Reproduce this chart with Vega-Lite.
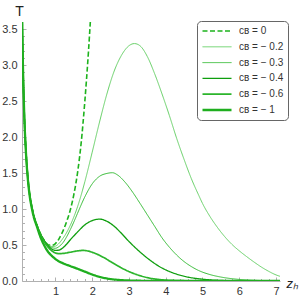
{
  "$schema": "https://vega.github.io/schema/vega-lite/v6.json",
  "width": 258,
  "height": 259,
  "autosize": {"type": "none"},
  "padding": {"left": 22, "top": 22, "right": 20, "bottom": 19},
  "config": {"view": {"stroke": null}, "font": "Liberation Sans"},
  "data": {"values": [
    {"z":0.09,"T":3.82,"c":"0"},{"z":0.1,"T":3.45,"c":"0"},{"z":0.12,"T":2.9,"c":"0"},{"z":0.15,"T":2.35,"c":"0"},{"z":0.2,"T":1.78,"c":"0"},{"z":0.25,"T":1.43,"c":"0"},{"z":0.3,"T":1.2,"c":"0"},{"z":0.35,"T":1.05,"c":"0"},{"z":0.4,"T":0.93,"c":"0"},{"z":0.5,"T":0.77,"c":"0"},{"z":0.6,"T":0.65,"c":"0"},
    {"z":0.7,"T":0.56,"c":"0"},{"z":0.8,"T":0.505,"c":"0"},{"z":0.9,"T":0.495,"c":"0"},{"z":1.0,"T":0.52,"c":"0"},{"z":1.1,"T":0.59,"c":"0"},{"z":1.2,"T":0.69,"c":"0"},{"z":1.3,"T":0.82,"c":"0"},{"z":1.4,"T":0.98,"c":"0"},{"z":1.5,"T":1.2,"c":"0"},{"z":1.6,"T":1.5,"c":"0"},{"z":1.7,"T":1.92,"c":"0"},{"z":1.8,"T":2.5,"c":"0"},{"z":1.9,"T":3.2,"c":"0"},{"z":2.0,"T":4.05,"c":"0"},

    {"z":0.09,"T":3.82,"c":"-0.2"},{"z":0.1,"T":3.45,"c":"-0.2"},{"z":0.12,"T":2.9,"c":"-0.2"},{"z":0.15,"T":2.35,"c":"-0.2"},{"z":0.2,"T":1.78,"c":"-0.2"},{"z":0.25,"T":1.43,"c":"-0.2"},{"z":0.3,"T":1.2,"c":"-0.2"},{"z":0.35,"T":1.05,"c":"-0.2"},{"z":0.4,"T":0.93,"c":"-0.2"},{"z":0.5,"T":0.77,"c":"-0.2"},{"z":0.6,"T":0.65,"c":"-0.2"},
    {"z":0.7,"T":0.565,"c":"-0.2"},{"z":0.8,"T":0.51,"c":"-0.2"},{"z":0.9,"T":0.48,"c":"-0.2"},{"z":1.0,"T":0.485,"c":"-0.2"},{"z":1.1,"T":0.525,"c":"-0.2"},{"z":1.2,"T":0.59,"c":"-0.2"},{"z":1.3,"T":0.67,"c":"-0.2"},{"z":1.4,"T":0.77,"c":"-0.2"},{"z":1.5,"T":0.89,"c":"-0.2"},{"z":1.6,"T":1.03,"c":"-0.2"},{"z":1.8,"T":1.38,"c":"-0.2"},{"z":2.0,"T":1.79,"c":"-0.2"},{"z":2.2,"T":2.21,"c":"-0.2"},{"z":2.4,"T":2.6,"c":"-0.2"},{"z":2.6,"T":2.92,"c":"-0.2"},{"z":2.8,"T":3.14,"c":"-0.2"},{"z":3.0,"T":3.27,"c":"-0.2"},{"z":3.15,"T":3.3,"c":"-0.2"},{"z":3.3,"T":3.27,"c":"-0.2"},{"z":3.5,"T":3.12,"c":"-0.2"},{"z":3.7,"T":2.88,"c":"-0.2"},{"z":3.9,"T":2.6,"c":"-0.2"},{"z":4.1,"T":2.3,"c":"-0.2"},{"z":4.3,"T":1.98,"c":"-0.2"},{"z":4.5,"T":1.69,"c":"-0.2"},{"z":4.7,"T":1.42,"c":"-0.2"},{"z":4.9,"T":1.19,"c":"-0.2"},{"z":5.0,"T":1.08,"c":"-0.2"},{"z":5.2,"T":0.9,"c":"-0.2"},{"z":5.4,"T":0.75,"c":"-0.2"},{"z":5.6,"T":0.62,"c":"-0.2"},{"z":5.8,"T":0.51,"c":"-0.2"},{"z":6.0,"T":0.42,"c":"-0.2"},{"z":6.2,"T":0.34,"c":"-0.2"},{"z":6.4,"T":0.265,"c":"-0.2"},{"z":6.6,"T":0.195,"c":"-0.2"},{"z":6.8,"T":0.135,"c":"-0.2"},{"z":7.0,"T":0.085,"c":"-0.2"},{"z":7.11,"T":0.065,"c":"-0.2"},

    {"z":0.09,"T":3.82,"c":"-0.3"},{"z":0.1,"T":3.45,"c":"-0.3"},{"z":0.12,"T":2.9,"c":"-0.3"},{"z":0.15,"T":2.35,"c":"-0.3"},{"z":0.2,"T":1.78,"c":"-0.3"},{"z":0.25,"T":1.43,"c":"-0.3"},{"z":0.3,"T":1.2,"c":"-0.3"},{"z":0.35,"T":1.05,"c":"-0.3"},{"z":0.4,"T":0.93,"c":"-0.3"},{"z":0.5,"T":0.77,"c":"-0.3"},{"z":0.6,"T":0.65,"c":"-0.3"},
    {"z":0.7,"T":0.562,"c":"-0.3"},{"z":0.8,"T":0.5,"c":"-0.3"},{"z":0.9,"T":0.465,"c":"-0.3"},{"z":1.0,"T":0.455,"c":"-0.3"},{"z":1.1,"T":0.48,"c":"-0.3"},{"z":1.2,"T":0.53,"c":"-0.3"},{"z":1.3,"T":0.61,"c":"-0.3"},{"z":1.4,"T":0.71,"c":"-0.3"},{"z":1.5,"T":0.82,"c":"-0.3"},{"z":1.6,"T":0.94,"c":"-0.3"},{"z":1.8,"T":1.17,"c":"-0.3"},{"z":2.0,"T":1.35,"c":"-0.3"},{"z":2.2,"T":1.455,"c":"-0.3"},{"z":2.4,"T":1.495,"c":"-0.3"},{"z":2.55,"T":1.505,"c":"-0.3"},{"z":2.7,"T":1.47,"c":"-0.3"},{"z":2.9,"T":1.37,"c":"-0.3"},{"z":3.1,"T":1.235,"c":"-0.3"},{"z":3.3,"T":1.08,"c":"-0.3"},{"z":3.5,"T":0.92,"c":"-0.3"},{"z":3.7,"T":0.76,"c":"-0.3"},{"z":3.9,"T":0.6,"c":"-0.3"},{"z":4.1,"T":0.47,"c":"-0.3"},{"z":4.3,"T":0.36,"c":"-0.3"},{"z":4.5,"T":0.27,"c":"-0.3"},{"z":4.7,"T":0.2,"c":"-0.3"},{"z":4.9,"T":0.145,"c":"-0.3"},{"z":5.2,"T":0.09,"c":"-0.3"},{"z":5.5,"T":0.055,"c":"-0.3"},{"z":6.0,"T":0.022,"c":"-0.3"},{"z":6.5,"T":0.008,"c":"-0.3"},{"z":7.11,"T":0.002,"c":"-0.3"},

    {"z":0.09,"T":3.82,"c":"-0.4"},{"z":0.1,"T":3.45,"c":"-0.4"},{"z":0.12,"T":2.9,"c":"-0.4"},{"z":0.15,"T":2.35,"c":"-0.4"},{"z":0.2,"T":1.78,"c":"-0.4"},{"z":0.25,"T":1.43,"c":"-0.4"},{"z":0.3,"T":1.2,"c":"-0.4"},{"z":0.35,"T":1.05,"c":"-0.4"},{"z":0.4,"T":0.93,"c":"-0.4"},{"z":0.5,"T":0.77,"c":"-0.4"},{"z":0.6,"T":0.65,"c":"-0.4"},
    {"z":0.7,"T":0.558,"c":"-0.4"},{"z":0.8,"T":0.49,"c":"-0.4"},{"z":0.9,"T":0.445,"c":"-0.4"},{"z":1.0,"T":0.425,"c":"-0.4"},{"z":1.1,"T":0.43,"c":"-0.4"},{"z":1.2,"T":0.46,"c":"-0.4"},{"z":1.3,"T":0.51,"c":"-0.4"},{"z":1.4,"T":0.57,"c":"-0.4"},{"z":1.6,"T":0.68,"c":"-0.4"},{"z":1.8,"T":0.78,"c":"-0.4"},{"z":2.0,"T":0.84,"c":"-0.4"},{"z":2.2,"T":0.86,"c":"-0.4"},{"z":2.4,"T":0.83,"c":"-0.4"},{"z":2.6,"T":0.76,"c":"-0.4"},{"z":2.8,"T":0.66,"c":"-0.4"},{"z":3.0,"T":0.55,"c":"-0.4"},{"z":3.2,"T":0.45,"c":"-0.4"},{"z":3.4,"T":0.36,"c":"-0.4"},{"z":3.6,"T":0.28,"c":"-0.4"},{"z":3.8,"T":0.21,"c":"-0.4"},{"z":4.0,"T":0.155,"c":"-0.4"},{"z":4.3,"T":0.095,"c":"-0.4"},{"z":4.6,"T":0.055,"c":"-0.4"},{"z":5.0,"T":0.025,"c":"-0.4"},{"z":5.5,"T":0.008,"c":"-0.4"},{"z":6.0,"T":0.003,"c":"-0.4"},{"z":7.11,"T":0.0,"c":"-0.4"},

    {"z":0.09,"T":3.82,"c":"-0.6"},{"z":0.1,"T":3.45,"c":"-0.6"},{"z":0.12,"T":2.9,"c":"-0.6"},{"z":0.15,"T":2.35,"c":"-0.6"},{"z":0.2,"T":1.78,"c":"-0.6"},{"z":0.25,"T":1.43,"c":"-0.6"},{"z":0.3,"T":1.2,"c":"-0.6"},{"z":0.35,"T":1.05,"c":"-0.6"},{"z":0.4,"T":0.93,"c":"-0.6"},{"z":0.5,"T":0.77,"c":"-0.6"},{"z":0.6,"T":0.64,"c":"-0.6"},
    {"z":0.7,"T":0.54,"c":"-0.6"},{"z":0.8,"T":0.47,"c":"-0.6"},{"z":0.9,"T":0.42,"c":"-0.6"},{"z":1.0,"T":0.39,"c":"-0.6"},{"z":1.1,"T":0.38,"c":"-0.6"},{"z":1.2,"T":0.383,"c":"-0.6"},{"z":1.4,"T":0.4,"c":"-0.6"},{"z":1.6,"T":0.418,"c":"-0.6"},{"z":1.75,"T":0.425,"c":"-0.6"},{"z":1.9,"T":0.415,"c":"-0.6"},{"z":2.1,"T":0.38,"c":"-0.6"},{"z":2.3,"T":0.33,"c":"-0.6"},{"z":2.5,"T":0.27,"c":"-0.6"},{"z":2.7,"T":0.21,"c":"-0.6"},{"z":2.9,"T":0.155,"c":"-0.6"},{"z":3.1,"T":0.11,"c":"-0.6"},{"z":3.3,"T":0.075,"c":"-0.6"},{"z":3.5,"T":0.047,"c":"-0.6"},{"z":3.8,"T":0.022,"c":"-0.6"},{"z":4.2,"T":0.008,"c":"-0.6"},{"z":5.0,"T":0.001,"c":"-0.6"},{"z":7.11,"T":0.0,"c":"-0.6"},

    {"z":0.09,"T":3.8,"c":"-1"},{"z":0.1,"T":3.43,"c":"-1"},{"z":0.12,"T":2.88,"c":"-1"},{"z":0.15,"T":2.33,"c":"-1"},{"z":0.2,"T":1.76,"c":"-1"},{"z":0.25,"T":1.41,"c":"-1"},{"z":0.3,"T":1.18,"c":"-1"},{"z":0.35,"T":1.03,"c":"-1"},{"z":0.4,"T":0.91,"c":"-1"},{"z":0.5,"T":0.75,"c":"-1"},{"z":0.6,"T":0.6,"c":"-1"},
    {"z":0.7,"T":0.49,"c":"-1"},{"z":0.8,"T":0.405,"c":"-1"},{"z":0.9,"T":0.35,"c":"-1"},{"z":1.0,"T":0.305,"c":"-1"},{"z":1.1,"T":0.272,"c":"-1"},{"z":1.2,"T":0.248,"c":"-1"},{"z":1.4,"T":0.208,"c":"-1"},{"z":1.6,"T":0.17,"c":"-1"},{"z":1.8,"T":0.13,"c":"-1"},{"z":2.0,"T":0.09,"c":"-1"},{"z":2.2,"T":0.058,"c":"-1"},{"z":2.4,"T":0.035,"c":"-1"},{"z":2.7,"T":0.016,"c":"-1"},{"z":3.0,"T":0.007,"c":"-1"},{"z":3.5,"T":0.002,"c":"-1"},{"z":4.0,"T":0.0005,"c":"-1"},{"z":7.11,"T":0.0,"c":"-1"}
  ]},
  "mark": {"type": "line", "interpolate": "monotone", "clip": true},
  "encoding": {
    "x": {
      "field": "z", "type": "quantitative",
      "scale": {"domain": [0.09, 7.11], "nice": false, "zero": false},
      "axis": {
        "values": [0.2,0.4,0.6,0.8,1,1.2,1.4,1.6,1.8,2,2.2,2.4,2.6,2.8,3,3.2,3.4,3.6,3.8,4,4.2,4.4,4.6,4.8,5,5.2,5.4,5.6,5.8,6,6.2,6.4,6.6,6.8,7],
        "labelExpr": "abs(datum.value - round(datum.value)) < 0.01 ? format(datum.value, 'd') : ''",
        "labelOverlap": false,
        "labelFlush": false,
        "tickSize": {"condition": {"test": "abs(datum.value - round(datum.value)) < 0.01", "value": -4}, "value": -2.5},
        "tickColor": "#b0b0b0",
        "domainColor": "#b0b0b0",
        "labelColor": "#333333",
        "labelFontSize": 11,
        "labelPadding": 8,
        "grid": false,
        "title": "zₕ",
        "titleFontStyle": "italic",
        "titleFontWeight": "normal",
        "titleFontSize": 13,
        "titleColor": "#222222",
        "titleAlign": "left",
        "titleBaseline": "alphabetic",
        "titleAngle": 0,
        "titleX": 264,
        "titleY": 6
      }
    },
    "y": {
      "field": "T", "type": "quantitative",
      "scale": {"domain": [0, 3.6], "nice": false, "zero": false},
      "axis": {
        "values": [0,0.1,0.2,0.3,0.4,0.5,0.6,0.7,0.8,0.9,1,1.1,1.2,1.3,1.4,1.5,1.6,1.7,1.8,1.9,2,2.1,2.2,2.3,2.4,2.5,2.6,2.7,2.8,2.9,3,3.1,3.2,3.3,3.4,3.5],
        "labelExpr": "abs(datum.value*2 - round(datum.value*2)) < 0.01 ? format(datum.value, '.1f') : ''",
        "labelOverlap": false,
        "labelFlush": false,
        "tickSize": {"condition": {"test": "abs(datum.value*2 - round(datum.value*2)) < 0.01", "value": -4}, "value": -2.5},
        "tickColor": "#b0b0b0",
        "domainColor": "#b0b0b0",
        "labelColor": "#333333",
        "labelFontSize": 11,
        "labelPadding": 9,
        "grid": false,
        "title": "T",
        "titleFontWeight": "normal",
        "titleFontSize": 14,
        "titleColor": "#222222",
        "titleAngle": 0,
        "titleAlign": "center",
        "titleBaseline": "alphabetic",
        "titleX": -3,
        "titleY": -7
      }
    },
    "color": {
      "field": "c", "type": "nominal",
      "scale": {"domain": ["0","-0.2","-0.3","-0.4","-0.6","-1"], "range": ["#1db31d","#66d066","#33bb33","#0e9e0e","#2cb52c","#1fae1f"]},
      "legend": {
        "orient": "none", "legendX": 175, "legendY": -1,
        "title": null,
        "symbolType": "stroke",
        "symbolSize": 841,
        "clipHeight": 12,
        "rowPadding": 3.8,
        "padding": 4,
        "labelOffset": 6,
        "labelFontSize": 10,
        "labelColor": "#333333",
        "labelExpr": "datum.label == '0' ? 'cʙ = 0' : 'cʙ = − ' + replace(datum.label, '-', '')",
        "strokeColor": "#666666",
        "fillColor": "#ffffff",
        "cornerRadius": 4,
        "encode": {
          "symbols": {
            "update": {
              "strokeDash": {"scale": "strokeDash", "field": "value"},
              "strokeWidth": {"scale": "strokeWidth", "field": "value"}
            }
          }
        }
      }
    },
    "strokeDash": {
      "field": "c", "type": "ordinal",
      "scale": {"domain": ["0","-0.2","-0.3","-0.4","-0.6","-1"], "range": [[5,2.5],[1,0],[1,0],[1,0],[1,0],[1,0]]},
      "legend": null
    },
    "strokeWidth": {
      "field": "c", "type": "ordinal",
      "scale": {"type": "ordinal", "domain": ["0","-0.2","-0.3","-0.4","-0.6","-1"], "range": [1.6,1.0,1.0,1.3,1.7,2.3]},
      "legend": null
    }
  }
}
